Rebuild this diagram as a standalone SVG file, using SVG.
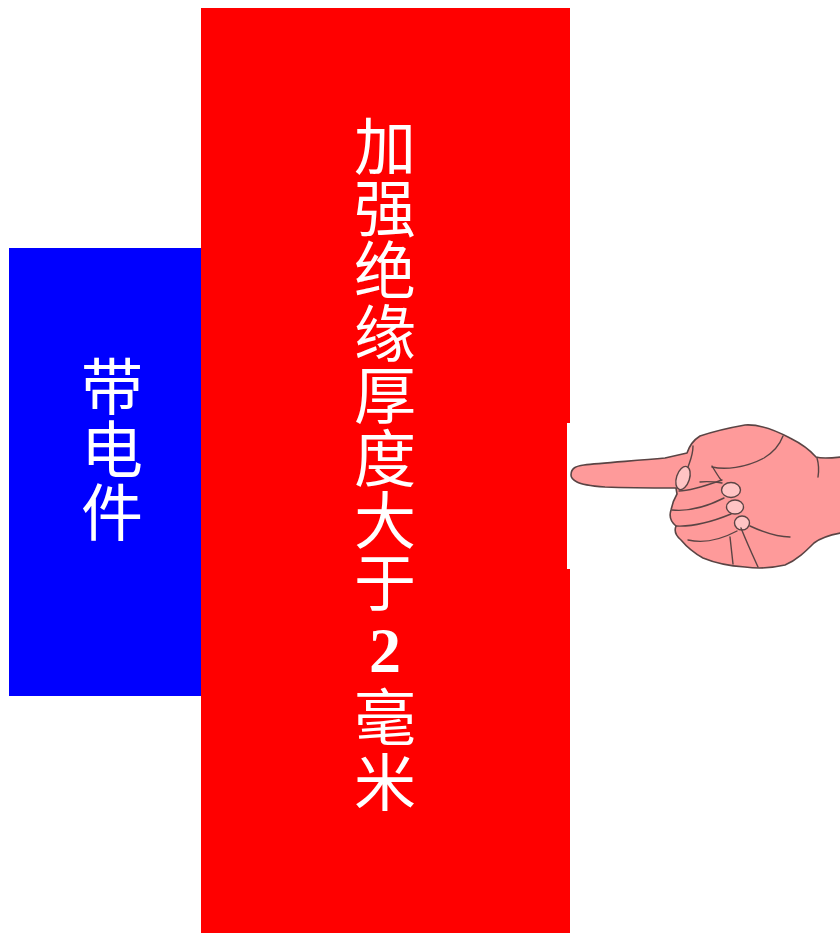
<svg xmlns="http://www.w3.org/2000/svg" width="840" height="933" viewBox="0 0 840 933">
  <style>
    .cjk { font-family: "Noto Sans CJK SC", "Noto Sans", sans-serif; font-size: 62px; fill: #ffffff;
           writing-mode: vertical-rl; text-orientation: upright; }
    .num { font-family: "Liberation Serif", serif; font-size: 64px; font-weight: bold; fill: #ffffff; text-anchor: middle; }
    .skin { fill: #fe9a9a; stroke: #5a4444; stroke-width: 1.6; stroke-linejoin: round; stroke-linecap: round; }
    .line { fill: none; stroke: #5a4444; stroke-width: 1.4; stroke-linecap: round; }
    .nail { fill: #ffc4c4; stroke: #5a4444; stroke-width: 1.4; }
  </style>
  <rect width="840" height="933" fill="#ffffff"/>

  <!-- live part (blue block) -->
  <g id="live-part">
    <rect x="9" y="248" width="193" height="448" fill="#0000ff"/>
    <text class="cjk" x="112" y="355" letter-spacing="1">带电件</text>
  </g>

  <!-- reinforced insulation layer (red block) -->
  <g id="insulation">
    <rect x="201" y="8" width="369" height="925" fill="#ff0000"/>
    <text class="cjk" x="385" y="115" letter-spacing="0.4">加强绝缘厚度大于</text>
    <text class="num" x="385" y="672">2</text>
    <text class="cjk" x="385" y="686" letter-spacing="3">毫米</text>
  </g>

  <!-- pointing hand -->
  <g id="hand">
    <rect x="567" y="423" width="273" height="146" fill="#ffffff"/>
    <path class="skin" d="M571,475 C571,468 576,466 584,465 C600,463 632,461 665,458 L687,453
      C689,447 692,441 700,436 C712,432 728,428 745,425 C760,424 775,430 790,438
      C802,444 810,450 816,457 C822,459 832,458 841,457 L841,533
      C830,535 822,537 814,543 C806,551 797,560 785,565 C772,568 760,569 745,567
      C730,566 715,563 703,558 C694,553 686,546 681,540 C676,536 674,531 676,526
      C671,522 669,516 671,510 C672,504 674,499 677,494 L676,488
      C660,488 630,488 605,487 C592,486 582,485 577,482 C573,480 571,478 571,475 Z"/>
    <!-- thumb -->
    <path class="line" d="M693,446 C693,455 690,461 688,467"/>
    <path class="line" d="M679,491 C690,491 705,486 722,480"/>
    <path class="line" d="M712,466 C715,471 718,476 721,480"/>
    <ellipse class="nail" cx="683" cy="478" rx="6.5" ry="12" transform="rotate(18 683 478)"/>
    <!-- knuckle line and wrist crease -->
    <path class="line" d="M712,467 C725,470 745,468 764,458 C774,452 780,444 783,436"/>
    <path class="line" d="M817,458 C819,465 819,471 818,477"/>
    <!-- curled fingers -->
    <path class="line" d="M700,482 C708,481 716,482 722,483"/>
    <path class="line" d="M672,510 C690,512 708,506 724,498"/>
    <path class="line" d="M676,526 C695,527 714,521 731,514"/>
    <path class="line" d="M688,540 C705,544 722,539 737,531"/>
    <ellipse class="nail" cx="731" cy="490" rx="9.5" ry="7.5"/>
    <ellipse class="nail" cx="735" cy="507" rx="8.5" ry="7"/>
    <ellipse class="nail" cx="742" cy="523" rx="7.5" ry="7"/>
    <!-- finger divisions and palm crease -->
    <path class="line" d="M730,537 C731,546 732,555 733,564"/>
    <path class="line" d="M741,528 C747,543 753,556 758,567"/>
    <path class="line" d="M750,526 C765,533 778,537 790,537"/>
  </g>
</svg>
